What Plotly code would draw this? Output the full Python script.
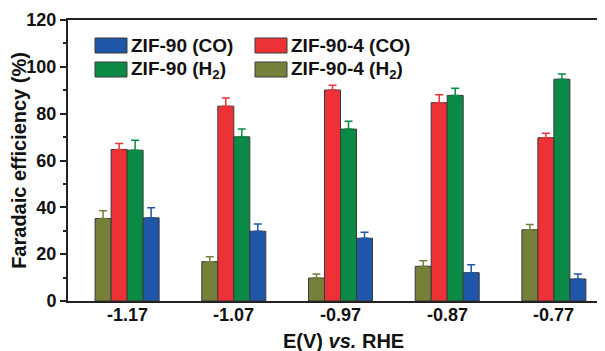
import plotly.graph_objects as go

categories = ["-1.17", "-1.07", "-0.97", "-0.87", "-0.77"]

zif904_h2 = [35.2, 16.8, 9.8, 14.8, 30.4]
zif904_h2_err = [3.3, 2.1, 1.7, 2.4, 2.3]
zif904_co = [64.7, 83.2, 90.1, 84.7, 69.7]
zif904_co_err = [2.6, 3.5, 2.0, 3.4, 1.9]
zif90_h2 = [64.4, 70.1, 73.4, 87.8, 94.7]
zif90_h2_err = [4.2, 3.3, 3.4, 3.1, 2.2]
zif90_co = [35.5, 29.8, 26.8, 12.1, 9.4]
zif90_co_err = [4.3, 3.1, 2.6, 3.4, 2.1]

names = {
    "zif90_co": "ZIF-90 (CO)",
    "zif904_co": "ZIF-90-4 (CO)",
    "zif90_h2": "ZIF-90 (H<sub>2</sub>)",
    "zif904_h2": "ZIF-90-4 (H<sub>2</sub>)",
}
colors = {
    "zif904_h2": "#76803a",
    "zif904_co": "#ec3237",
    "zif90_h2": "#0a8a44",
    "zif90_co": "#1f56a8",
}

FONT = "Liberation Sans, Arial, sans-serif"

fig = go.Figure()
series = [
    ("zif904_h2", zif904_h2, zif904_h2_err),
    ("zif904_co", zif904_co, zif904_co_err),
    ("zif90_h2", zif90_h2, zif90_h2_err),
    ("zif90_co", zif90_co, zif90_co_err),
]
for key, vals, errs in series:
    fig.add_trace(go.Bar(
        x=categories, y=vals, name=names[key], showlegend=False,
        marker=dict(color=colors[key], line=dict(color="#3a3a3a", width=1)),
        error_y=dict(type="data", array=errs, arrayminus=[0] * len(errs),
                     symmetric=False, color=colors[key], thickness=1.5, width=4),
    ))

# page body has an 8px margin: figure is offset by (8, 8) in the window
OFF = 8
W, H = 605 - OFF, 351 - OFF
L, R, T, B = 60, 0, 12, 50
pw, ph = W - L - R, H - T - B


def px(x):  # window pixel -> paper x
    return (x - OFF - L) / pw


def py(y):  # window pixel -> paper y
    return (H - B - (y - OFF)) / ph


# manual legend (two columns)
legend_items = [
    ("zif90_co", 95, 38),
    ("zif90_h2", 95, 62),
    ("zif904_co", 255, 38),
    ("zif904_h2", 255, 62),
]
shapes = []
annotations = []
for key, x0, y0 in legend_items:
    shapes.append(dict(type="rect", xref="paper", yref="paper",
                       x0=px(x0), x1=px(x0 + 32), y0=py(y0 + 15), y1=py(y0),
                       fillcolor=colors[key], line=dict(color="#3a3a3a", width=1)))
    annotations.append(dict(xref="paper", yref="paper", x=px(x0 + 34), y=py(y0 + 7.5),
                            xanchor="left", yanchor="middle", showarrow=False,
                            text=names[key],
                            font=dict(family=FONT, size=19, color="#111", weight="bold")))

# category labels placed under each group (category index on the x axis)
for i, cat in enumerate(categories):
    annotations.append(dict(xref="x", yref="paper", x=i, y=py(314.5),
                            xanchor="center", yanchor="middle", showarrow=False,
                            text=cat,
                            font=dict(family=FONT, size=18, color="#111", weight="bold")))

annotations.append(dict(xref="paper", yref="paper", x=px(343), y=py(341),
                        xanchor="center", yanchor="middle", showarrow=False,
                        text="E(V) <i>vs.</i> RHE",
                        font=dict(family=FONT, size=20, color="#111", weight="bold")))

fig.update_layout(
    width=W, height=H,
    margin=dict(l=L, r=R, t=T, b=B),
    paper_bgcolor="white", plot_bgcolor="white",
    barmode="group", bargap=0.4, bargroupgap=0,
    shapes=shapes, annotations=annotations,
    font=dict(family=FONT, color="#111"),
)
fig.update_xaxes(
    type="category", range=[-0.554, 4.479],
    showline=True, linecolor="#222", linewidth=2, mirror=True,
    ticks="", showgrid=False, showticklabels=False,
)
fig.update_yaxes(
    range=[0, 120], dtick=20, showgrid=False, zeroline=False,
    showline=True, linecolor="#222", linewidth=2,
    ticks="outside", ticklen=6, tickwidth=2, tickcolor="#222",
    minor=dict(dtick=10, ticks="outside", ticklen=3, tickwidth=1.5, tickcolor="#222"),
    tickfont=dict(family=FONT, size=18, color="#111", weight="bold"),
    title=dict(text="Faradaic efficiency (%)", standoff=3,
               font=dict(family=FONT, size=20, color="#111", weight="bold")),
)

fig.write_html("out.html")
